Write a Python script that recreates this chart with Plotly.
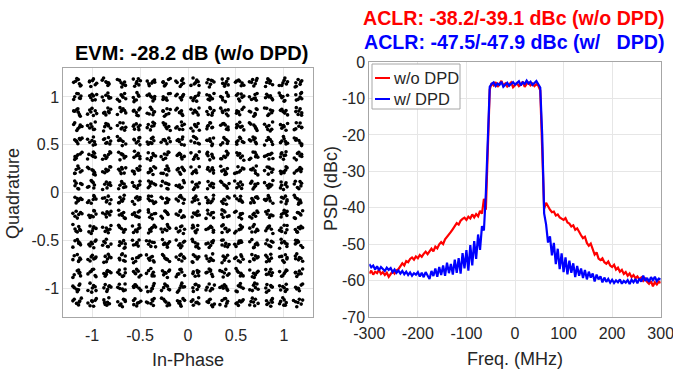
import numpy as np
import plotly.graph_objects as go

# ---------------- Constellation (256-QAM, w/o DPD) ----------------
LEVELS = [-1.150, -0.997, -0.844, -0.690, -0.537, -0.383, -0.230, -0.077,
          0.077, 0.230, 0.383, 0.537, 0.690, 0.844, 0.997, 1.150]
# hand-read scatter offsets around each ideal point (units of 0.01)
DX = [-2.1, 3.4, 0.6, -4.2, 1.8, -0.9, 2.7, -3.1, 0.2, 4.5, -1.6, -2.8, 1.1,
      3.0, -0.4, -5.0, 2.2, 0.9, -3.6, 1.5, -1.2, 3.8, -2.4, 0.0, 2.9, -4.6,
      1.3, -0.7, 4.1, -1.9, 0.5, -3.3, 2.5, -0.2, 1.9, -2.6, 3.6]
DY = [1.4, -2.7, 3.2, 0.3, -1.1, 4.4, -3.5, 0.8, 2.1, -0.6, -4.1, 1.7, 3.9,
      -2.2, 0.1, 2.6, -1.5, -3.0, 4.8, -0.3, 1.0, -2.9, 2.4, -4.6, 0.7, 3.3,
      -1.8, -0.1, 2.0, -3.8, 1.2, 3.7, -2.4, -0.8, 4.0, -1.3, 0.4, -3.2, 2.8,
      -0.5, 1.6]
PTS_PER_SYMBOL = 7

# ---------------- PSD ----------------
FREQ_MHZ = list(range(-300, 301, 4))
PSD_WO_DPD = (
    [-58.0, -57.2, -58.3, -57.5, -57.9, -57.0, -58.1, -57.6, -58.4, -57.8,
     -58.9, -58.2, -57.4, -58.0, -57.1, -56.8, -56.0, -55.2, -55.8, -54.6,
     -54.9, -54.0, -53.6, -54.2, -53.3, -53.8, -52.9, -53.4, -52.6, -52.0,
     -52.7, -51.8, -51.2, -51.9, -50.6, -51.1, -50.0, -49.4, -49.9, -48.6,
     -48.0, -47.2, -46.6, -45.8, -45.0, -44.2, -44.6, -43.5, -43.0, -42.7,
     -43.3, -42.4, -42.9, -41.8, -42.6, -41.7, -42.3, -40.8, -41.6, -37.5]
    + [-40.5, -22.0, -7.5]
    + [-5.8, -6.4, -5.5, -6.8, -6.0, -5.2, -6.5, -5.9, -6.7, -6.1, -5.6, -6.9,
       -6.3, -5.8, -6.6, -6.2, -5.4, -6.8, -6.0, -5.7, -6.4, -5.9, -6.6, -6.1,
       -6.5]
    + [-7.8, -24.0, -40.2]
    + [-38.6, -39.8, -40.5, -41.2, -41.0, -42.1, -41.8, -42.6, -42.9, -43.3,
       -42.8, -44.0, -44.3, -45.1, -44.8, -46.0, -45.6, -46.8, -47.5, -48.3,
       -47.9, -49.6, -50.4, -49.8, -51.5, -52.8, -52.2, -53.9, -54.3, -53.8,
       -54.9, -55.3, -54.7, -55.8, -56.2, -55.6, -56.9, -56.4, -57.5, -57.0,
       -58.1, -57.6, -58.6, -58.0, -59.0, -58.4, -59.3, -58.8, -59.6, -59.1,
       -60.0, -59.4, -60.3, -60.8, -60.1, -61.5, -60.4, -61.0, -60.2, -60.6]
)
PSD_W_DPD = (
    [-55.4, -56.3, -55.8, -56.9, -56.0, -57.1, -56.2, -56.8, -57.3, -56.4,
     -57.0, -56.5, -57.6, -56.9, -57.8, -57.2, -58.0, -57.3, -58.2, -57.5,
     -58.4, -57.7, -58.6, -57.9, -58.3, -57.6, -58.8, -57.8, -59.0, -57.6,
     -58.5, -59.5, -57.3, -58.7, -56.6, -58.9, -56.2, -58.4, -55.8, -58.6,
     -55.0, -57.9, -55.4, -58.3, -54.2, -57.8, -53.8, -58.0, -52.4, -56.6,
     -51.6, -57.2, -50.2, -55.8, -49.1, -54.0, -47.3, -51.5, -45.0, -46.2]
    + [-36.0, -18.0, -6.8]
    + [-6.0, -5.6, -6.6, -5.9, -6.3, -5.4, -6.8, -6.1, -5.7, -6.5, -6.0, -5.5,
       -6.2, -5.8, -5.3, -6.4, -5.6, -6.0, -5.1, -5.9, -5.4, -6.3, -5.7, -5.2,
       -6.1]
    + [-7.0, -20.0, -41.5]
    + [-44.5, -49.5, -47.8, -53.0, -49.6, -55.4, -51.2, -56.8, -52.5, -57.6,
       -53.6, -58.2, -54.5, -57.8, -55.2, -59.0, -55.9, -58.6, -56.6, -59.2,
       -57.0, -59.6, -57.5, -59.1, -58.0, -60.2, -58.3, -59.6, -58.8, -60.4,
       -59.1, -60.3, -59.5, -60.5, -59.7, -60.6, -59.9, -60.4, -59.6, -60.8,
       -60.0, -60.5, -59.8, -60.9, -59.7, -60.4, -59.5, -60.7, -59.4, -60.2,
       -58.6, -60.0, -59.2, -60.3, -59.0, -59.8, -58.9, -60.1, -59.4, -59.6]
)
assert len(PSD_WO_DPD) == len(FREQ_MHZ) == len(PSD_W_DPD)

EVM_TITLE = "EVM: -28.2 dB (w/o DPD)"
ACLR_WO = "ACLR: -38.2/-39.1 dBc (w/o DPD)"
ACLR_W = "ACLR: -47.5/-47.9 dBc (w/\u00a0\u00a0\u00a0DPD)"

# ---------------- build constellation points ----------------
cx, cy = [], []
k = 0
for q in LEVELS[::-1]:
    for i in LEVELS:
        for _ in range(PTS_PER_SYMBOL):
            cx.append(i + 0.01 * DX[k % len(DX)])
            cy.append(q + 0.01 * DY[k % len(DY)])
            k += 1

W, H = 673, 373
def px(x):
    return x / W
def py(y):
    return 1 - y / H

FONT = "Liberation Sans, Arial, sans-serif"
TXT = "#262626"
GRID = "#e6e6e6"
LINE = "#a6a6a6"

fig = go.Figure()
fig.add_trace(go.Scatter(x=cx, y=cy, mode="markers",
                         marker=dict(color="black", size=3.6),
                         xaxis="x", yaxis="y", showlegend=False))
fig.add_trace(go.Scatter(x=FREQ_MHZ, y=PSD_WO_DPD, mode="lines",
                         line=dict(color="#ff0000", width=2.2),
                         xaxis="x2", yaxis="y2", showlegend=False))
fig.add_trace(go.Scatter(x=FREQ_MHZ, y=PSD_W_DPD, mode="lines",
                         line=dict(color="#0000ff", width=2.2),
                         xaxis="x2", yaxis="y2", showlegend=False))

axcommon = dict(showline=True, mirror=True, linecolor=LINE, linewidth=1,
                gridcolor=GRID, gridwidth=1, zeroline=False, ticks="",
                automargin=False, ticklabeloverflow="allow",
                tickfont=dict(family=FONT, size=16, color=TXT))

fig.update_layout(
    width=W, height=H, margin=dict(l=0, r=0, t=0, b=0, autoexpand=False),
    paper_bgcolor="white", plot_bgcolor="white",
    xaxis=dict(domain=[px(63.3), px(312.7)], range=[-1.3, 1.3],
               tickvals=[-1, -0.5, 0, 0.5, 1], ticktext=["-1", "-0.5", "0", "0.5", "1"],
               anchor="y", ticklabelstandoff=4, **axcommon),
    yaxis=dict(domain=[py(316.7), py(68.3)], range=[-1.3, 1.3],
               tickvals=[-1, -0.5, 0, 0.5, 1], ticktext=["-1", "-0.5", "0", "0.5", "1"],
               anchor="x", **axcommon),
    xaxis2=dict(domain=[px(369.3), px(660.7)], range=[-300, 300],
                tickvals=[-300, -200, -100, 0, 100, 200, 300],
                ticktext=["-300", "-200", "-100", "0", "100", "200", "300"],
                anchor="y2", ticklabelstandoff=1, **axcommon),
    yaxis2=dict(domain=[py(317.3), py(62)], range=[-70, 0],
                tickvals=[0, -10, -20, -30, -40, -50, -60, -70],
                ticktext=["0", "-10", "-20", "-30", "-40", "-50", "-60", "-70"],
                anchor="x2", **axcommon),
)

ann = []
def text(s, x, y, size, color=TXT, bold=False, angle=0, xanchor="center"):
    ann.append(dict(text=f"<b>{s}</b>" if bold else s, x=px(x), y=py(y),
                    xref="paper", yref="paper", showarrow=False,
                    xanchor=xanchor, yanchor="middle", textangle=angle,
                    font=dict(family=FONT, size=size, color=color)))

text(EVM_TITLE, 191, 53, 20, color="#000000", bold=True)
text(ACLR_WO, 514, 18, 19.6, color="#ff0000", bold=True)
text(ACLR_W, 514, 42, 19.6, color="#0000ff", bold=True)
text("In-Phase", 188, 360, 18)
text("Quadrature", 13, 194, 18, angle=-90)
text("Freq. (MHz)", 515, 359, 18)
text("PSD (dBc)", 331, 189, 18, angle=-90)
# legend
text("w/o DPD", 391, 78, 16.5, xanchor="left")
text("w/ DPD", 391, 99, 16.5, xanchor="left")
fig.update_layout(annotations=ann)

shapes = [
    dict(type="rect", xref="paper", yref="paper", x0=px(372), x1=px(460),
         y0=py(109), y1=py(64), line=dict(color="#a6a6a6", width=1),
         fillcolor="white", layer="above"),
    dict(type="line", xref="paper", yref="paper", x0=px(375), x1=px(390),
         y0=py(78), y1=py(78), line=dict(color="#ff0000", width=2), layer="above"),
    dict(type="line", xref="paper", yref="paper", x0=px(375), x1=px(390),
         y0=py(99), y1=py(99), line=dict(color="#0000ff", width=2), layer="above"),
]
fig.update_layout(shapes=shapes)

fig.write_html("out.html")
